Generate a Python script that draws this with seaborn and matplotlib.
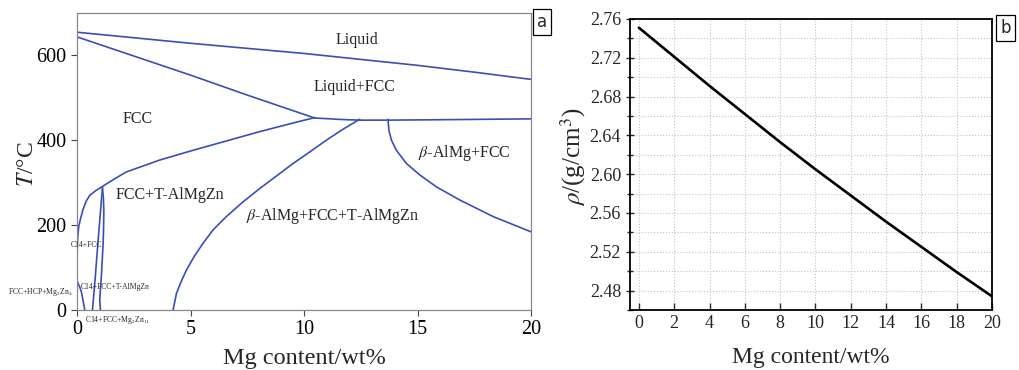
import numpy as np
import pandas as pd
import matplotlib
matplotlib.use("Agg")
import matplotlib.pyplot as plt
from matplotlib.ticker import MultipleLocator, FormatStrFormatter
import seaborn as sns

# ---- data: phase boundaries (Mg wt%, T in degC) ----
liquidus_x = [0, 2.5, 5, 7.5, 10, 12.5, 15, 17.5, 20]
liquidus_t = [654, 641, 628, 616, 604, 590, 576, 560, 543]

solidus_x = [0, 2.5, 5, 7.5, 10.47]
solidus_t = [643, 598, 553, 506, 452]

eutectic_x = [10.47, 11.0, 11.5, 12.0, 12.45, 13.7, 16, 20]
eutectic_t = [452, 450.5, 449, 447.8, 447, 447, 448, 450]

fcc_solvus_x = [10.47, 9.5, 8.05, 6.58, 5.11, 3.64, 2.17, 1.6, 1.15, 0.85, 0.56,
                0.4, 0.26, 0.15, 0.075, 0.04, 0.015, 0.0]
fcc_solvus_t = [453, 440, 420, 398, 376, 353, 325, 307, 292, 282, 270,
                256, 236, 214, 196, 178, 155, 120]

t_left_x = [1.12, 1.0, 0.9, 0.8, 0.68]
t_left_t = [288, 210, 145, 75, 0]

t_right_x = [1.12, 1.16, 1.18, 1.17, 1.15, 1.11, 1.07, 1.03, 1.0, 1.03]
t_right_t = [288, 265, 235, 195, 157, 118, 78, 48, 24, 0]

c14_x = [0.0, 0.04, 0.12, 0.19, 0.26, 0.34]
c14_t = [70, 63, 54, 43, 24, 0]

beta_t_x = [12.45, 11.7, 10.99, 10.25, 9.52, 8.8, 8.05, 7.3, 6.58, 6.0, 5.55,
            5.15, 4.82, 4.58, 4.38, 4.23]
beta_t_t = [449, 425, 400, 372, 345, 316, 286, 254, 220, 189, 157,
            125, 94, 66, 39, 0]

beta_fcc_x = [13.7, 13.74, 13.85, 14.07, 14.51, 15.10, 15.83, 16.86, 18.33, 20]
beta_fcc_t = [449, 423, 400, 376, 345, 318, 290, 259, 220, 184]

# ---- data: density vs Mg content ----
mg_content = [0, 2, 4, 6, 8, 10, 12, 14, 16, 18, 20]
density = [2.751, 2.721, 2.691, 2.662, 2.633, 2.605, 2.578, 2.551, 2.525, 2.499, 2.474]

sns.set_style("ticks")
plt.rcParams["font.family"] = ["Liberation Serif", "DejaVu Serif"]
plt.rcParams["mathtext.fontset"] = "stix"

blue = "#3a4fb5"

fig = plt.figure(figsize=(10.19, 3.70), dpi=100)
ax1 = fig.add_axes([0.0756, 0.1622, 0.4455, 0.8035])
ax2 = fig.add_axes([0.6183, 0.1622, 0.3553, 0.7865])

# ============================================
# (a) phase diagram
# ============================================
curves = [
    (liquidus_x, liquidus_t),
    (solidus_x, solidus_t),
    (eutectic_x, eutectic_t),
    (fcc_solvus_x, fcc_solvus_t),
    (t_left_x, t_left_t),
    (t_right_x, t_right_t),
    (c14_x, c14_t),
    (beta_t_x, beta_t_t),
    (beta_fcc_x, beta_fcc_t),
]
for cx, ct in curves:
    sns.lineplot(x=cx, y=ct, sort=False, estimator=None, color=blue, lw=1.2, ax=ax1)

ax1.set_xlim(0, 20)
ax1.set_ylim(0, 700)
ax1.set_xticks([0, 5, 10, 15, 20])
ax1.set_yticks([0, 200, 400, 600])
ax1.tick_params(labelsize=14.5, direction="out", length=4, width=0.8, colors="#444444", labelcolor="black")
for s in ax1.spines.values():
    s.set_color("#888888")
    s.set_linewidth(0.9)
ax1.set_xlabel("Mg content/wt%", fontsize=17.5, labelpad=6)
ax1.set_ylabel(r"$T$/°C", fontsize=17)
ax1.yaxis.set_label_coords(-0.086, 0.49)

ax1.text(12.33, 636, "Liquid", fontsize=11.5, ha="center", va="center")
ax1.text(12.24, 525, "Liquid+FCC", fontsize=11.5, ha="center", va="center")
ax1.text(2.67, 449, "FCC", fontsize=11.5, ha="center", va="center")
ax1.text(4.1, 271, "FCC+T-AlMgZn", fontsize=11.5, ha="center", va="center")
ax1.text(11.28, 221, r"$\beta$-AlMg+FCC+T-AlMgZn", fontsize=11.5, ha="center", va="center")
ax1.text(17.08, 369, r"$\beta$-AlMg+FCC", fontsize=11.5, ha="center", va="center")
ax1.text(0.4, 153, "C14+FCC", fontsize=5.5, ha="center", va="center")
ax1.text(1.67, 55, "C14+FCC+T-AlMgZn", fontsize=5.5, ha="center", va="center")
ax1.text(-1.6, 43, r"FCC+HCP+Mg$_2$Zn$_4$", fontsize=5.5, ha="center", va="center", clip_on=False)
ax1.text(1.8, -24, r"C14+FCC+Mg$_2$Zn$_{11}$", fontsize=5.5, ha="center", va="center", clip_on=False)

# ============================================
# (b) density
# ============================================
sns.lineplot(x=mg_content, y=density, color="black", lw=1.9, ax=ax2)

ax2.set_xlim(-0.5, 20)
ax2.set_ylim(2.46, 2.76)
ax2.xaxis.set_major_locator(MultipleLocator(2))
ax2.yaxis.set_major_locator(MultipleLocator(0.04))
ax2.yaxis.set_minor_locator(MultipleLocator(0.02))
ax2.yaxis.set_major_formatter(FormatStrFormatter("%.2f"))
ax2.grid(True, which="major", axis="x", ls=":", color="#c4c4c4", lw=0.8)
ax2.grid(True, which="both", axis="y", ls=":", color="#c4c4c4", lw=0.8)
ax2.tick_params(axis="x", direction="in", length=5, width=1, labelsize=13)
ax2.tick_params(axis="y", which="major", direction="inout", length=6, width=1, labelsize=13)
ax2.tick_params(axis="y", which="minor", direction="inout", length=4, width=1, left=True)
for s in ax2.spines.values():
    s.set_color("black")
    s.set_linewidth(1.3)
ax2.set_xlabel("Mg content/wt%", fontsize=17, labelpad=11)
ax2.set_ylabel(r"$\rho$/(g/cm$^3$)", fontsize=18)
ax2.yaxis.set_label_coords(-0.116, 0.526)

# panel labels
box = dict(facecolor="white", edgecolor="black", boxstyle="square,pad=0.25", lw=0.9)
fig.text(0.527, 0.941, "a", fontsize=12, family="DejaVu Sans", ha="left", va="center", bbox=box)
fig.text(0.982, 0.925, "b", fontsize=12, family="DejaVu Sans", ha="left", va="center", bbox=box)

fig.savefig("out.png", dpi=100)
